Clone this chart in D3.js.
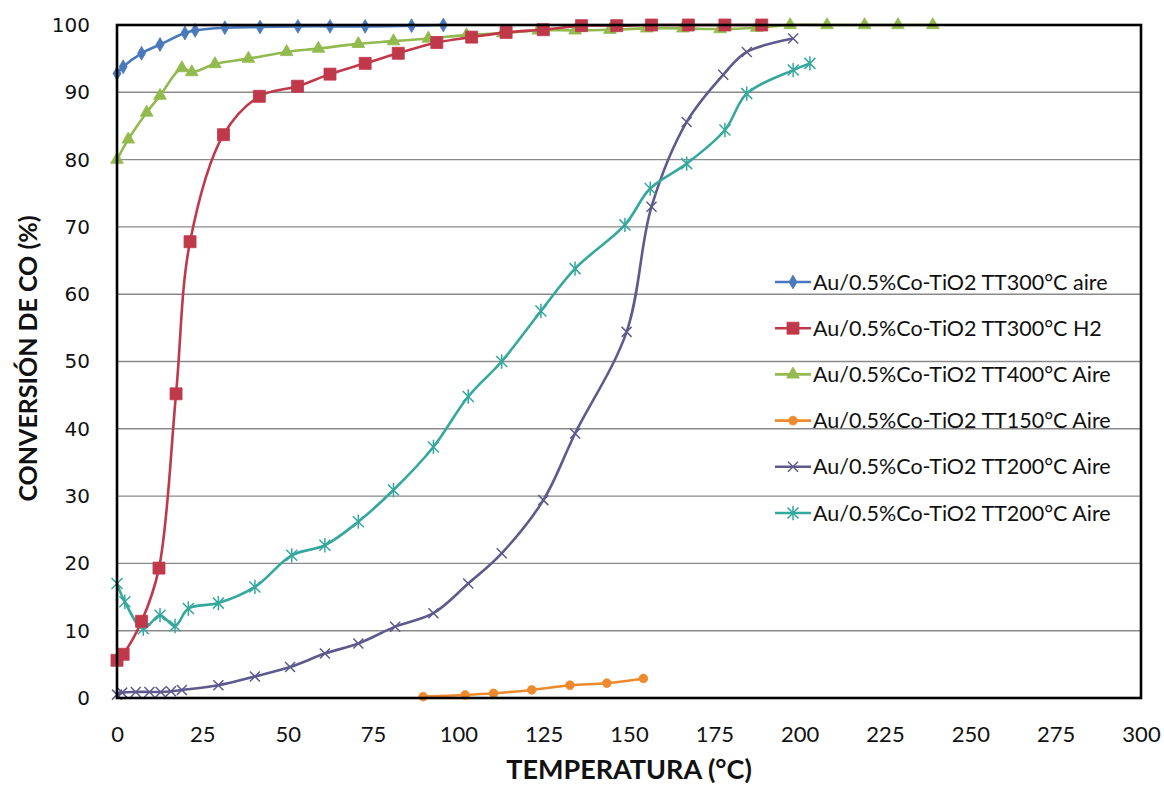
<!DOCTYPE html>
<html><head><meta charset="utf-8">
<script src="https://cdn.jsdelivr.net/npm/d3@7"></script>
<style>body{margin:0;background:#fff}</style>
</head><body><svg id="c" width="1164" height="788"></svg>
<script>
const xTicks=[0,25,50,75,100,125,150,175,200,225,250,275,300];
const yTicks=[0,10,20,30,40,50,60,70,80,90,100];
const xTitle="TEMPERATURA (°C)";
const yTitle="CONVERSIÓN DE CO (%)";
const seriesNames=["Au/0.5%Co-TiO2 TT300°C aire","Au/0.5%Co-TiO2 TT300°C H2","Au/0.5%Co-TiO2 TT400°C Aire","Au/0.5%Co-TiO2 TT150°C Aire","Au/0.5%Co-TiO2 TT200°C Aire","Au/0.5%Co-TiO2 TT200°C Aire"];

const blueX=[0,1.8,7.2,12.6,19.9,22.9,31.6,41.9,53,62.4,72.7,86.3,95.6];
const blueY=[92.8,93.8,95.8,97.1,98.8,99.2,99.6,99.7,99.8,99.8,99.8,99.9,100];
const redX=[0,1.8,7.2,12.3,17.3,21.4,31.2,41.7,52.9,62.4,72.7,82.4,93.7,103.9,114,124.9,136.1,146.4,156.6,167.4,178.1,188.9];
const redY=[5.6,6.5,11.4,19.3,45.2,67.8,83.7,89.4,90.9,92.7,94.3,95.8,97.4,98.2,98.9,99.3,99.9,99.9,100,100,100,100];
const greenX=[0,3.3,8.7,12.6,19,21.9,28.7,38.5,49.7,59,70.7,81,91.2,102.4,113,123.4,134.2,144.4,155.2,165.8,176.7,187.4,197.2,208,219,228.8,239];
const greenY=[80,83,87,89.5,93.6,93,94.2,95,96,96.5,97.2,97.6,98,98.5,98.8,99.2,99.2,99.3,99.5,99.5,99.4,99.6,100,100,100,100,100];
const orangeX=[89.7,102,110.3,121.5,132.7,143.5,154.2];
const orangeY=[0.2,0.45,0.7,1.2,1.9,2.2,2.9];
const purpleX=[0,1.5,5.5,9.5,12.8,15.8,19,29.7,40.4,50.7,60.9,70.7,81.5,92.7,102.9,112.7,124.9,134.2,149.3,156.6,166.9,177.6,184.5,198.1];
const purpleY=[0.5,0.8,0.9,0.9,0.9,1.0,1.2,1.9,3.2,4.6,6.6,8.1,10.6,12.6,17.0,21.5,29.4,39.3,54.4,73,85.6,92.6,96,98];
const tealX=[0,2.3,7.7,12.6,17,20.9,29.7,40.4,51.2,60.9,70.7,81,92.7,102.9,112.7,124.2,134.2,148.8,156.2,166.9,178.1,184.5,198.1,203];
const tealY=[17,14.3,10.3,12.3,10.7,13.3,14.1,16.5,21.2,22.7,26.2,30.9,37.3,44.8,50,57.5,63.8,70.3,75.7,79.4,84.4,89.8,93.3,94.3];

const colors=["#4A78BC","#C0394B","#92BA4E","#EE8A2E","#5E5A8C","#35A89E"];
const markers=["diamond","square","triangle","circle","x","star"];
const xsArr=[blueX,redX,greenX,orangeX,purpleX,tealX];
const ysArr=[blueY,redY,greenY,orangeY,purpleY,tealY];

const svg=d3.select("#c");
const L=117,T=25,W=1024,H=673;
const x=d3.scaleLinear().domain([0,300]).range([L,L+W]);
const y=d3.scaleLinear().domain([0,100]).range([T+H,T]);

// gridlines
svg.append("g").selectAll("line").data(yTicks).join("line")
  .attr("x1",L).attr("x2",L+W).attr("y1",d=>y(d)).attr("y2",d=>y(d))
  .attr("stroke","#8a8a8a").attr("stroke-width",1.4);

// axes (labels only)
const xa=svg.append("g").attr("transform",`translate(0,${T+H})`)
  .call(d3.axisBottom(x).tickValues(xTicks).tickSize(0).tickPadding(28).tickFormat(d3.format("d")));
xa.select(".domain").remove();
xa.selectAll("text").attr("font-family","Lato, 'Open Sans', sans-serif").attr("font-size",22).attr("fill","#111");
const ya=svg.append("g").attr("transform",`translate(${L},0)`)
  .call(d3.axisLeft(y).tickValues(yTicks).tickSize(0).tickPadding(27).tickFormat(d3.format("d")));
ya.select(".domain").remove();
ya.selectAll("text").attr("font-family","'DejaVu Sans', Verdana, sans-serif").attr("font-size",20).attr("fill","#111");

function markerPath(type,s){
  switch(type){
    case "diamond": return d3.symbol(d3.symbolDiamond, 55)();
    case "square": return `M${-s/2},${-s/2}h${s}v${s}h${-s}Z`;
    case "triangle": return d3.symbol(d3.symbolTriangle, 70)();
    case "circle": return d3.symbol(d3.symbolCircle, 60)();
    case "x": return `M${-s/2},${-s/2}L${s/2},${s/2}M${-s/2},${s/2}L${s/2},${-s/2}`;
    case "star": return `M${-s/2},${-s/2}L${s/2},${s/2}M${-s/2},${s/2}L${s/2},${-s/2}M0,${-s*0.65}V${s*0.65}`;
  }
}
const sizes={diamond:9,square:12,triangle:11,circle:9,x:10,star:11};

const line=d3.line().curve(d3.curveCatmullRom.alpha(0.5)).x(d=>x(d[0])).y(d=>y(d[1]));
const drawOrder=[4,5,3,2,1,0];
drawOrder.forEach(i=>{
  const data=xsArr[i].map((v,k)=>[v,ysArr[i][k]]);
  const g=svg.append("g");
  g.append("path").datum(data).attr("d",line).attr("fill","none").attr("stroke",colors[i]).attr("stroke-width",2.6);
  const m=markers[i];
  const stroked=(m==="x"||m==="star");
  g.selectAll("path.m").data(data).join("path").attr("class","m")
    .attr("transform",d=>`translate(${x(d[0])},${y(d[1])})`)
    .attr("d",markerPath(m,sizes[m]))
    .attr("fill",stroked?"none":colors[i])
    .attr("stroke",colors[i]).attr("stroke-width",stroked?1.5:0.8);
});

// frame
svg.append("rect").attr("x",L).attr("y",T).attr("width",W).attr("height",H)
  .attr("fill","none").attr("stroke","#000").attr("stroke-width",2.6);

// titles
svg.append("text").attr("x",L+W/2).attr("y",779).attr("text-anchor","middle")
  .attr("font-family","Lato, 'Open Sans', sans-serif").attr("font-weight","bold").attr("font-size",27).attr("fill","#111").text(xTitle);
svg.append("text").attr("transform",`translate(37,${T+H/2-3}) rotate(-90)`).attr("text-anchor","middle")
  .attr("font-family","Lato, 'Open Sans', sans-serif").attr("font-weight","bold").attr("font-size",25).attr("fill","#111").text(yTitle);

// legend
const lg=svg.append("g");
seriesNames.forEach((name,i)=>{
  const cy=282+i*46.2;
  lg.append("line").attr("x1",775).attr("x2",811).attr("y1",cy).attr("y2",cy).attr("stroke",colors[i]).attr("stroke-width",2.6);
  const m=markers[i];const stroked=(m==="x"||m==="star");
  lg.append("path").attr("transform",`translate(793,${cy})`).attr("d",markerPath(m,sizes[m]))
    .attr("fill",stroked?"none":colors[i]).attr("stroke",colors[i]).attr("stroke-width",stroked?1.5:0.8);
  lg.append("text").attr("x",813).attr("y",cy).attr("dy","0.35em")
    .attr("font-family","Lato, 'Open Sans', sans-serif").attr("font-size",21.5).attr("fill","#111").text(name);
});
</script></body></html>
